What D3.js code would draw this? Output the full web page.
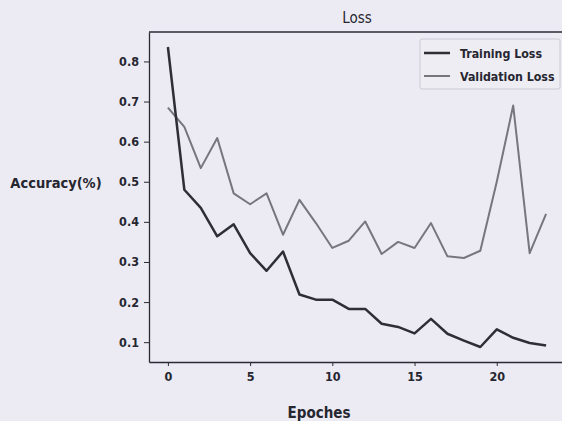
<!DOCTYPE html>
<html>
<head>
<meta charset="utf-8">
<script src="https://cdn.jsdelivr.net/npm/d3@7"></script>
<style>
  html, body { margin: 0; padding: 0; background: #ecebf3; }
  svg text { font-family: "DejaVu Sans", sans-serif; fill: #262630; }
</style>
</head>
<body>
<div class="chart"></div>
<script>
const epochs = d3.range(0, 24);
const trainingLoss = [0.836, 0.48, 0.435, 0.364, 0.394, 0.322, 0.278, 0.326, 0.219, 0.206,
  0.206, 0.183, 0.183, 0.146, 0.138, 0.122, 0.158, 0.121, 0.104, 0.088,
  0.132, 0.111, 0.098, 0.092];
const validationLoss = [0.685, 0.637, 0.534, 0.609, 0.471, 0.444, 0.471, 0.368, 0.455, 0.397,
  0.335, 0.353, 0.401, 0.32, 0.35, 0.335, 0.397, 0.314, 0.31, 0.328,
  0.5, 0.69, 0.322, 0.42];
const xTicks = [0, 5, 10, 15, 20];
const yTicks = [0.1, 0.2, 0.3, 0.4, 0.5, 0.6, 0.7, 0.8];
const seriesNames = ['Training Loss', 'Validation Loss'];

const width = 562, height = 421;
const plotLeft = 149, plotRight = 565, plotTop = 32, plotBottom = 362;
const colors = ['#2e2e36', '#76767e'];
const labelFont = '"DejaVu Sans Condensed", "DejaVu Sans", sans-serif';

const svg = d3.select('.chart')
  .append('svg')
  .attr('width', width)
  .attr('height', height);

// 5% margins like matplotlib autoscale
const xPad = (d3.max(epochs) - d3.min(epochs)) * 0.05;
const x = d3.scaleLinear()
  .domain([d3.min(epochs) - xPad, d3.max(epochs) + xPad])
  .range([plotLeft, plotRight]);

const allVals = trainingLoss.concat(validationLoss);
const yExt = d3.extent(allVals);
const yPad = (yExt[1] - yExt[0]) * 0.05;
const y = d3.scaleLinear()
  .domain([yExt[0] - yPad, yExt[1] + yPad])
  .range([plotBottom, plotTop]);

// frame (top + right spines)
svg.append('line')
  .attr('x1', plotLeft).attr('x2', plotRight)
  .attr('y1', plotTop).attr('y2', plotTop)
  .attr('stroke', '#2a2a34').attr('stroke-width', 1.3);
svg.append('line')
  .attr('x1', plotRight).attr('x2', plotRight)
  .attr('y1', plotTop).attr('y2', plotBottom)
  .attr('stroke', '#2a2a34').attr('stroke-width', 1.3);

const xAxis = svg.append('g')
  .attr('transform', `translate(0, ${plotBottom})`)
  .call(d3.axisBottom(x).tickValues(xTicks).tickSize(4).tickSizeOuter(0).tickPadding(6).tickFormat(d3.format('d')));
const yAxis = svg.append('g')
  .attr('transform', `translate(${plotLeft}, 0)`)
  .call(d3.axisLeft(y).tickValues(yTicks).tickSize(5).tickSizeOuter(0).tickPadding(5).tickFormat(d3.format('.1f')));

[xAxis, yAxis].forEach(a => {
  a.select('.domain').attr('stroke', '#2a2a34').attr('stroke-width', 1.3);
  a.selectAll('.tick line').attr('stroke', '#2a2a34').attr('stroke-width', 1);
  a.selectAll('.tick text')
    .attr('font-size', 12.5)
    .attr('font-weight', 'bold')
    .attr('fill', '#2a2a34')
    .style('font-family', labelFont);
});

const line = d3.line()
  .x((d, i) => x(epochs[i]))
  .y(d => y(d));

[validationLoss, trainingLoss].forEach((series, k) => {
  svg.append('path')
    .datum(series)
    .attr('fill', 'none')
    .attr('stroke', k === 0 ? colors[1] : colors[0])
    .attr('stroke-width', k === 0 ? 2 : 2.5)
    .attr('stroke-linejoin', 'round')
    .attr('d', line);
});

// title and axis labels
svg.append('text')
  .attr('x', 357).attr('y', 23)
  .attr('text-anchor', 'middle')
  .attr('font-size', 15)
  .style('font-family', labelFont)
  .text('Loss');

svg.append('text')
  .attr('x', 319).attr('y', 418)
  .attr('text-anchor', 'middle')
  .attr('font-size', 15)
  .attr('font-weight', 'bold')
  .style('font-family', labelFont)
  .text('Epoches');

svg.append('text')
  .attr('x', 56).attr('y', 188)
  .attr('text-anchor', 'middle')
  .attr('font-size', 14.5)
  .attr('font-weight', 'bold')
  .style('font-family', labelFont)
  .text('Accuracy(%)');

// legend
const legend = svg.append('g').attr('transform', 'translate(420, 39)');
legend.append('rect')
  .attr('width', 140).attr('height', 50)
  .attr('rx', 2)
  .attr('fill', '#eeedf4')
  .attr('stroke', '#cacad2');
seriesNames.forEach((name, i) => {
  const row = legend.append('g').attr('transform', `translate(0, ${14 + i * 23})`);
  row.append('line')
    .attr('x1', 4).attr('x2', 30)
    .attr('stroke', colors[i])
    .attr('stroke-width', i === 0 ? 2.5 : 2);
  row.append('text')
    .attr('x', 40).attr('y', 4.5)
    .attr('font-size', 12.3)
    .attr('font-weight', 'bold')
    .style('font-family', labelFont)
    .text(name);
});
</script>
</body>
</html>
